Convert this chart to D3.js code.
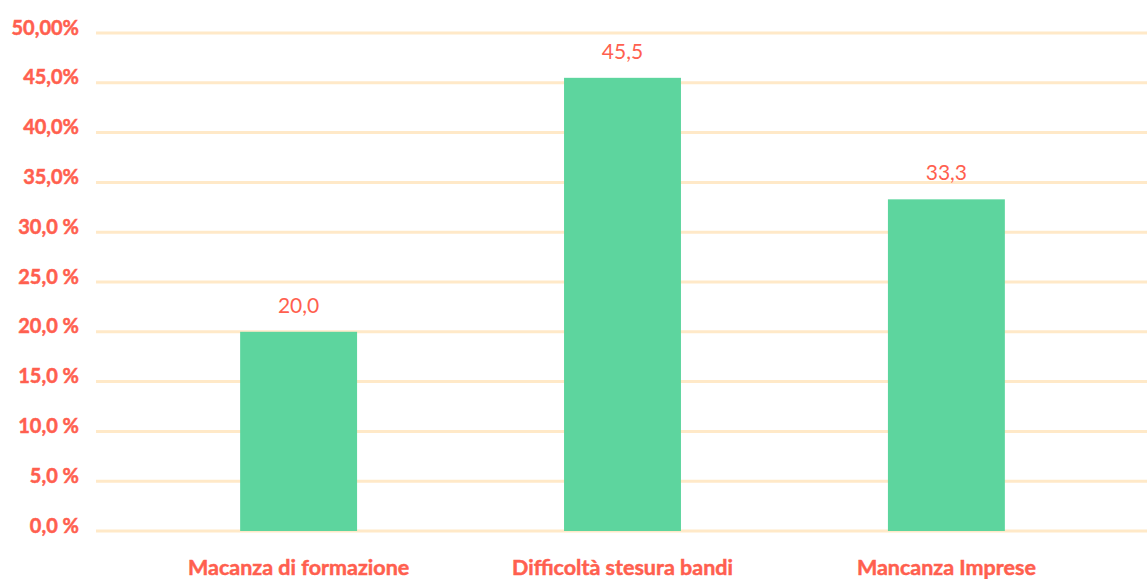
<!DOCTYPE html>
<html>
<head>
<meta charset="utf-8">
<script src="https://cdn.jsdelivr.net/npm/d3@7"></script>
<style>
    body { margin: 0; background: #fff; }
    svg { display: block; font-family: Lato, "Open Sans", sans-serif; }
</style>
</head>
<body>
<div id="chart"></div>
<script>
// Data
const categories = ['Macanza di formazione', 'Difficoltà stesura bandi', 'Mancanza Imprese'];
const values = [20.0, 45.5, 33.3];
const valueLabels = ['20,0', '45,5', '33,3'];
const tickValues = [0, 5, 10, 15, 20, 25, 30, 35, 40, 45, 50];
const tickLabels = ['0,0 %', '5,0 %', '10,0 %', '15,0 %', '20,0 %', '25,0 %', '30,0 %', '35,0%', '40,0%', '45,0%', '50,00%'];

const chart = {
    totalWidth: 1147,
    totalHeight: 579,
    top: 33,
    bottom: 531,
    gridLeft: 96,
    gridRight: 1147
};

const red = '#ff5f4f';

const svg = d3.select('#chart')
    .append('svg')
    .attr('width', chart.totalWidth)
    .attr('height', chart.totalHeight);

// Scales
const xScale = d3.scaleBand()
    .domain(categories)
    .range([136.5, 1108.5])
    .paddingInner(0.639)
    .paddingOuter(0.32);

const yScale = d3.scaleLinear()
    .domain([0, 50])
    .range([chart.bottom, chart.top]);

// Grid lines
svg.append('g')
    .classed('grid', true)
    .selectAll('line')
    .data(tickValues)
    .enter()
    .append('line')
    .attr('x1', chart.gridLeft)
    .attr('x2', chart.gridRight)
    .attr('y1', d => yScale(d))
    .attr('y2', d => yScale(d))
    .attr('stroke', '#ffe9c8')
    .attr('stroke-width', 3);

// Y-axis
const yAxis = d3.axisLeft(yScale)
    .tickValues(tickValues)
    .tickFormat((d, i) => tickLabels[i])
    .tickSize(0)
    .tickPadding(0);

svg.append('g')
    .classed('y-axis', true)
    .attr('transform', 'translate(79, 0)')
    .call(yAxis)
    .call(g => g.select('.domain').remove())
    .call(g => g.selectAll('text')
        .attr('dy', '1px')
        .style('font-family', 'Lato, sans-serif')
        .style('font-size', '20px')
        .style('font-weight', 'bold')
        .attr('fill', red)
        .attr('stroke', red)
        .attr('stroke-width', 0.5));

// Bars
svg.append('g')
    .classed('bars', true)
    .selectAll('rect')
    .data(values)
    .enter()
    .append('rect')
    .attr('x', (d, i) => xScale(categories[i]))
    .attr('width', xScale.bandwidth())
    .attr('y', d => yScale(d))
    .attr('height', d => yScale(0) - yScale(d))
    .attr('fill', '#5dd59e');

// Value labels
svg.append('g')
    .classed('value-labels', true)
    .selectAll('text')
    .data(values)
    .enter()
    .append('text')
    .attr('x', (d, i) => xScale(categories[i]) + xScale.bandwidth() / 2)
    .attr('y', d => yScale(d) - 19)
    .attr('text-anchor', 'middle')
    .style('font-size', '21px')
    .attr('fill', red)
    .text((d, i) => valueLabels[i]);

// X-axis
const xAxis = d3.axisBottom(xScale)
    .tickSize(0)
    .tickPadding(0);

svg.append('g')
    .classed('x-axis', true)
    .attr('transform', 'translate(0, 575)')
    .call(xAxis)
    .call(g => g.select('.domain').remove())
    .call(g => g.selectAll('text')
        .attr('dy', 0)
        .style('font-family', 'Lato, sans-serif')
        .style('font-size', '21.5px')
        .style('font-weight', 'bold')
        .attr('fill', red)
        .attr('stroke', red)
        .attr('stroke-width', 0.5));
</script>
</body>
</html>
